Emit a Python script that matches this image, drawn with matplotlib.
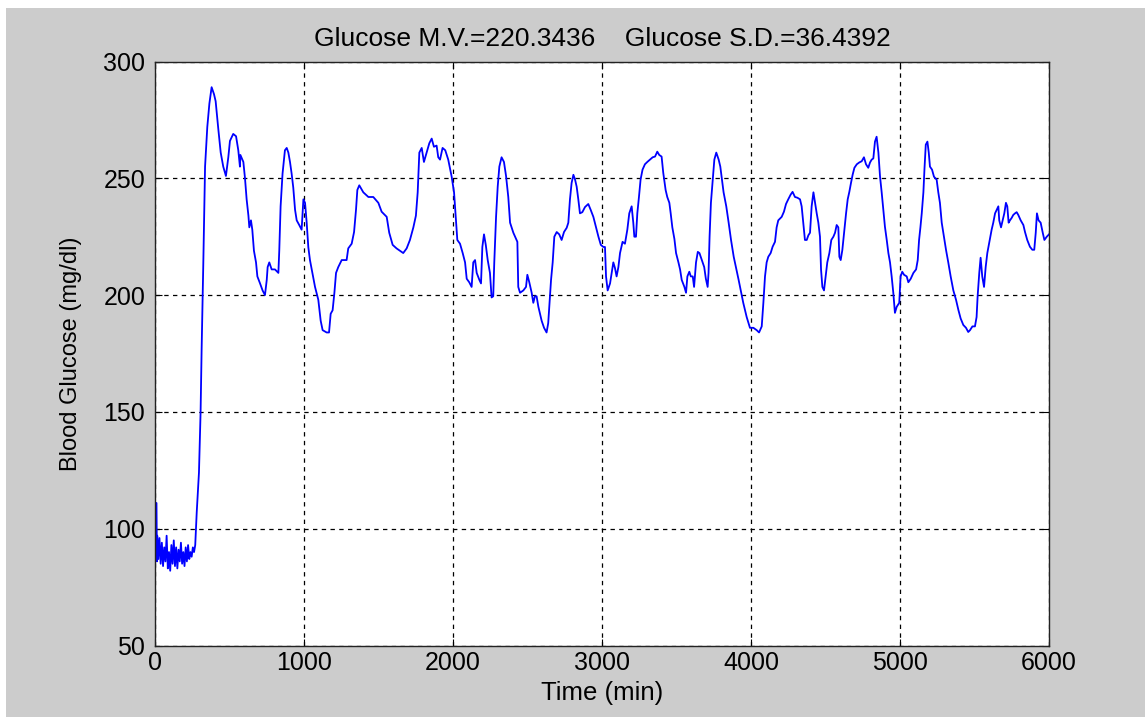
import matplotlib
matplotlib.use("Agg")
import matplotlib.pyplot as plt
from matplotlib.patches import Rectangle

# ---- data ----
time_min = [0, 10, 13, 15, 22, 30, 38, 46, 54, 62, 70, 78, 86, 94, 102, 110, 118, 126, 134, 142,
            150, 158, 166, 174, 182, 190, 198, 206, 214, 222, 230, 238, 246, 254, 262, 270,
            280, 295, 306, 313, 324, 336, 351, 365, 380, 396, 407, 425, 441, 458, 476, 492, 503,
            525, 544, 559, 570, 573, 593, 604, 615, 627, 633, 644, 653, 664, 678, 687, 705, 722,
            738, 750, 756, 767, 783, 805, 828, 834, 843, 856, 872, 884, 895, 906, 917, 928, 940,
            951, 968, 984, 996, 1007, 1018, 1029, 1040, 1056, 1074, 1096, 1112, 1125, 1152, 1168,
            1179, 1192, 1204, 1215, 1230, 1253, 1286, 1297, 1320, 1336, 1349, 1358, 1371, 1398,
            1432, 1465, 1499, 1521, 1555, 1572, 1595, 1621, 1666, 1689, 1711, 1734, 1751, 1763,
            1774, 1790, 1805, 1823, 1841, 1857, 1872, 1890, 1901, 1913, 1930, 1948, 1968, 1991,
            2007, 2020, 2029, 2047, 2065, 2081, 2092, 2109, 2125, 2136, 2148, 2159, 2177, 2188,
            2197, 2208, 2220, 2233, 2248, 2259, 2270, 2277, 2289, 2300, 2311, 2326, 2342, 2356,
            2371, 2383, 2405, 2432, 2438, 2450, 2472, 2490, 2499, 2512, 2528, 2539, 2550, 2561,
            2573, 2584, 2595, 2611, 2628, 2639, 2646, 2658, 2669, 2680, 2696, 2713, 2729, 2745,
            2763, 2774, 2785, 2796, 2808, 2819, 2830, 2841, 2852, 2868, 2886, 2908, 2924, 2942,
            2960, 2976, 2992, 3009, 3020, 3027, 3038, 3054, 3065, 3076, 3087, 3098, 3110, 3121,
            3138, 3154, 3170, 3183, 3199, 3210, 3217, 3228, 3237, 3248, 3259, 3272, 3288, 3304,
            3322, 3340, 3356, 3371, 3384, 3400, 3411, 3427, 3438, 3452, 3461, 3472, 3486, 3497,
            3513, 3524, 3535, 3553, 3564, 3573, 3586, 3596, 3609, 3618, 3631, 3643, 3654, 3670,
            3686, 3697, 3709, 3715, 3722, 3731, 3745, 3754, 3767, 3783, 3794, 3805, 3816, 3834,
            3850, 3866, 3884, 3902, 3917, 3948, 3971, 3993, 4016, 4038, 4054, 4072, 4083, 4094,
            4105, 4116, 4132, 4145, 4161, 4172, 4183, 4206, 4221, 4235, 4250, 4266, 4279, 4295,
            4311, 4329, 4340, 4351, 4362, 4374, 4385, 4396, 4407, 4419, 4430, 4441, 4452, 4463,
            4470, 4479, 4490, 4501, 4512, 4526, 4539, 4553, 4564, 4575, 4586, 4593, 4602, 4613,
            4625, 4638, 4649, 4660, 4671, 4682, 4694, 4710, 4727, 4743, 4758, 4772, 4787, 4799,
            4810, 4821, 4832, 4843, 4855, 4866, 4877, 4888, 4899, 4911, 4922, 4933, 4944, 4955,
            4966, 4978, 4995, 5004, 5015, 5027, 5045, 5056, 5072, 5090, 5108, 5119, 5128, 5137,
            5146, 5157, 5164, 5173, 5184, 5193, 5201, 5215, 5228, 5246, 5257, 5268, 5280, 5295,
            5309, 5324, 5340, 5358, 5376, 5392, 5407, 5425, 5443, 5458, 5470, 5486, 5503, 5514,
            5521, 5532, 5541, 5552, 5564, 5575, 5586, 5600, 5615, 5626, 5638, 5649, 5660, 5666,
            5678, 5689, 5700, 5711, 5720, 5729, 5738, 5749, 5760, 5772, 5783, 5794, 5810, 5828,
            5839, 5854, 5872, 5888, 5901, 5911, 5919, 5930, 5944, 5958, 5969, 5985, 6000]

glucose = [111, 111, 86, 97, 87, 96, 85, 94, 84, 92, 86, 97, 83, 90, 82, 93, 85, 95, 84, 92,
           83, 91, 86, 94, 85, 90, 84, 92, 86, 93, 87, 90, 88, 92, 90, 93,
           107, 124, 150, 177, 213, 255, 272, 282, 289, 286, 283, 271, 261, 255, 251, 259, 266,
           269, 268, 262, 255, 260, 257, 250, 241, 234, 229, 232, 228, 219, 214, 208, 205, 202,
           200, 206.5, 212, 214, 211, 211, 209.5, 219, 238, 252, 262, 263, 261, 257, 252, 246, 236.5,
           232, 230, 228, 241, 239.5, 231, 220.5, 215, 209.5, 203.5, 198, 189, 185, 184, 184,
           192, 193.5, 201, 209.5, 212, 215, 215, 220, 222, 227, 236.5, 245, 247, 244,
           242, 242, 239.5, 235.7, 233.5, 226.7, 221.5, 220, 218, 220, 223.6, 229, 234, 244,
           261, 263, 257, 261, 265, 267, 263.5, 264, 259, 258, 263, 262, 258, 250.7,
           244, 232, 223.6, 222, 218, 214, 207, 205.5, 203.5, 214, 215, 209.5, 206.5, 205,
           220.6, 226, 221.5, 215, 209.5, 199, 199.5, 214, 233.5, 246.4, 255, 259, 257, 251,
           242, 231, 226.7, 222.8, 203.5, 201, 202, 203.5, 208.7, 205.5, 201, 196.7, 199.5, 199.5,
           195, 192, 189, 186, 184, 188, 195, 206.5, 214, 225, 227, 226, 223.6, 227,
           228.8, 231, 241, 248, 251.5, 249.5, 246.4, 241, 235, 235.5, 237.7, 239, 236.5, 233.5,
           229, 225, 221.5, 220.6, 220.6, 208, 202, 205, 209.5, 214, 211.6, 208, 212, 218,
           222.8, 222, 228, 235, 238, 231, 225, 225, 235, 242, 249.5, 253.7, 256, 257,
           258, 259, 259.3, 261.4, 260, 259.3, 252.4, 245, 242, 239.5, 235, 229, 224, 218,
           214, 211, 206.5, 203.5, 201, 208, 210, 208, 208, 203.5, 214, 218.5, 218, 215,
           212, 207, 203.5, 209.5, 225, 239.5, 250.7, 258, 261, 258, 255, 249.5, 244, 238,
           231, 223.6, 216.4, 211, 206.5, 196.7, 190.6, 186, 186, 185, 184, 186.6, 196.7, 208,
           214, 216.4, 218, 220.7, 222.8, 229, 232, 233.5, 235.7, 239, 241, 243, 244.2, 242,
           241.7, 241, 238, 231, 223.6, 223.6, 225.6, 226.7, 238, 244, 239.5, 235, 231, 225,
           211, 203.5, 202, 208, 214, 218, 223.6, 225, 226.7, 230, 229, 216.4, 215, 219.3,
           226.7, 235, 241, 244.2, 248, 251.5, 254.5, 256, 256.8, 257.3, 259, 256, 254.5, 256.8,
           258, 258.5, 265.7, 267.8, 261, 250.7, 244, 236.5, 229.2, 223.6, 218, 214, 208, 201,
           192.4, 195, 196.7, 208, 210, 208.7, 208, 205.5, 207, 209.5, 211, 215, 223.6, 229,
           235, 244, 253.7, 264.4, 265.7, 261, 255, 253.7, 250.7, 249.4, 244, 239.5, 231, 225,
           219.3, 214, 208, 202, 198, 193.6, 190, 187.2, 186, 184.2, 185, 186.6, 186.6, 190.6,
           199.5, 209.5, 216, 208, 203.5, 212, 218, 222.8, 228, 231, 235, 236.5, 238, 232,
           229, 232, 235, 239.5, 238, 231, 232, 233, 234.3, 235, 235.5, 234.3, 232, 230,
           227, 223.6, 220.7, 219.4, 219.4, 226.7, 235, 232, 231, 226.7, 223.6, 225, 226]

x_ticks = [0, 1000, 2000, 3000, 4000, 5000, 6000]
y_ticks = [50, 100, 150, 200, 250, 300]
title_text = "Glucose M.V.=220.3436    Glucose S.D.=36.4392"
x_label = "Time (min)"
y_label = "Blood Glucose (mg/dl)"

# ---- figure ----
plt.rcParams['font.family'] = ['Liberation Sans', 'DejaVu Sans']
W, H = 1145, 717
fig = plt.figure(figsize=(W / 100, H / 100), dpi=100, facecolor='white')
fig.patches.append(Rectangle((6 / W, 0), 1 - 6 / W, (H - 8) / H, transform=fig.transFigure,
                             facecolor='#cccccc', edgecolor='none', zorder=-10))

ax = fig.add_axes([155 / W, (H - 645.5) / H, (1049 - 155) / W, (645.5 - 61.5) / H])
ax.set_facecolor('white')
ax.plot(time_min, glucose, color='#0000ff', lw=1.3)

ax.set_xlim(0, 6000)
ax.set_ylim(50, 300)
ax.set_xticks(x_ticks)
ax.set_yticks(y_ticks)
ax.tick_params(direction='in', length=5, width=0.8, top=True, right=True,
               labelsize=18, colors='black')
ax.tick_params(axis='x', pad=4)
ax.tick_params(axis='y', pad=7)
ax.grid(True, color='black', linestyle=(0, (3.5, 3.5)), linewidth=0.9)
for s in ax.spines.values():
    s.set_linewidth(1.0)
    s.set_color('#222222')

ax.set_title(title_text, fontsize=19, pad=11)
ax.set_xlabel(x_label, fontsize=18.5, labelpad=4)
ax.set_ylabel(y_label, fontsize=17, labelpad=15)

fig.savefig("out.png", dpi=100, facecolor=fig.get_facecolor())
